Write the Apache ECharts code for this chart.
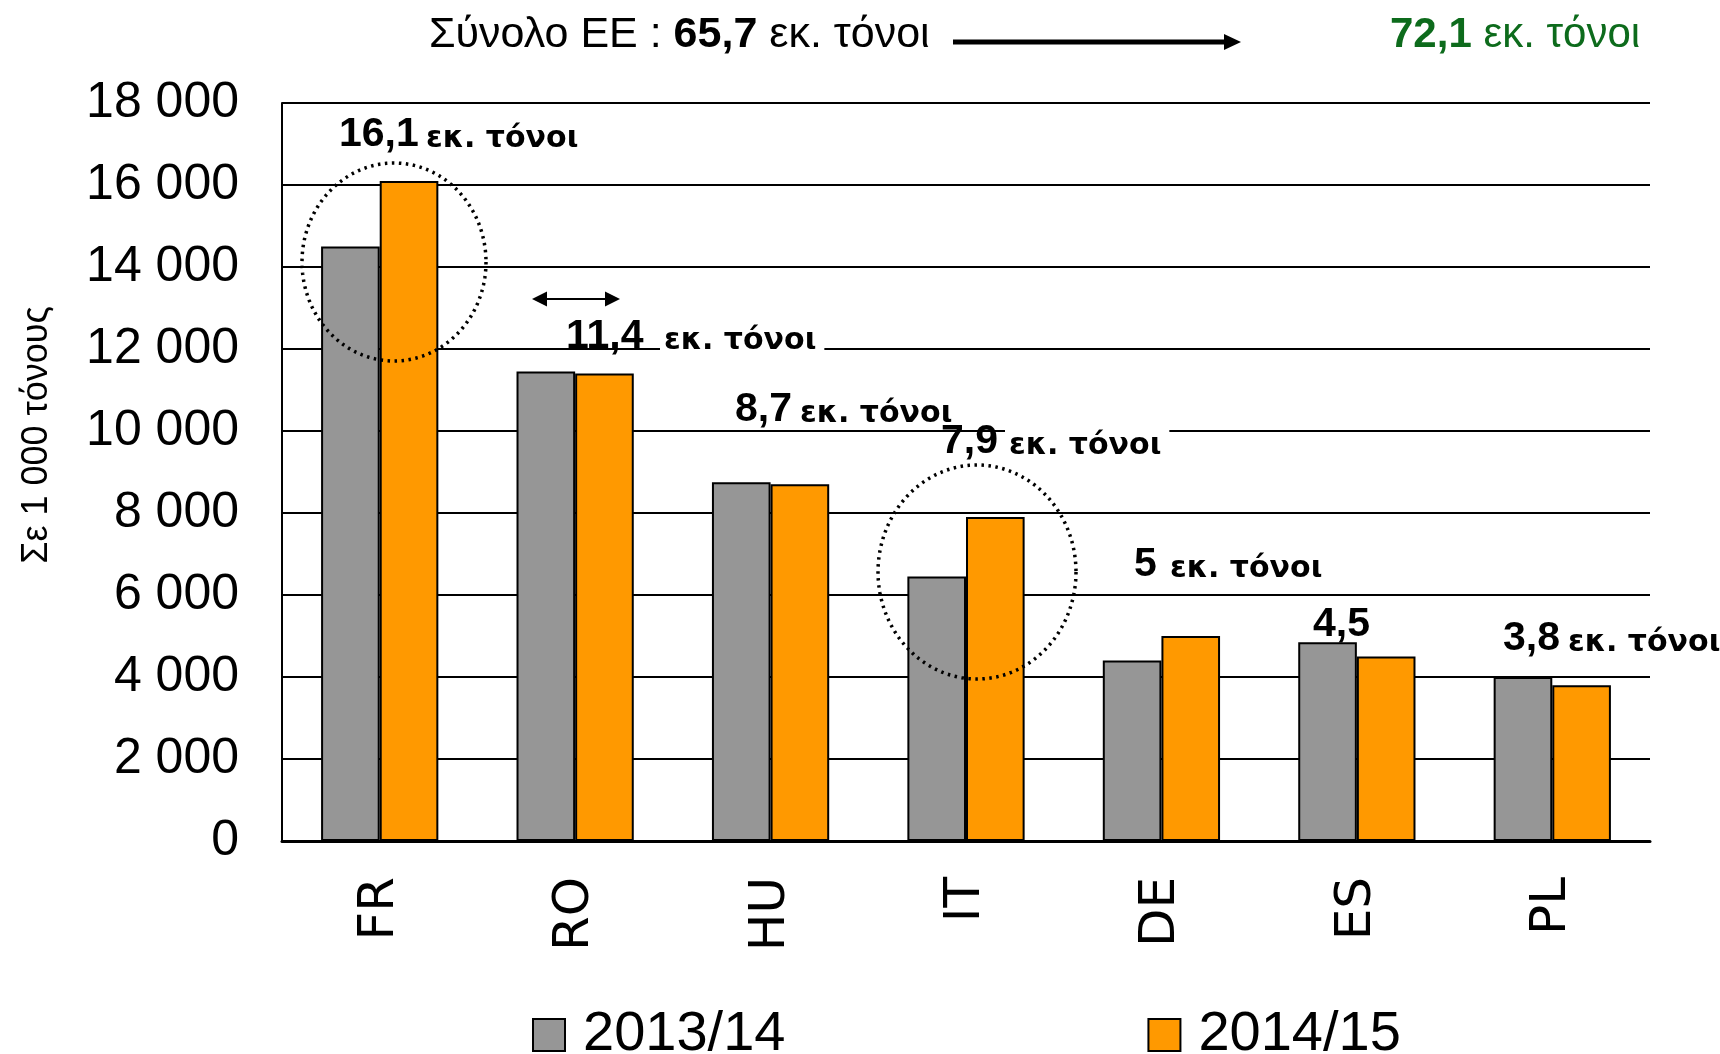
<!DOCTYPE html>
<html>
<head>
<meta charset="utf-8">
<script src="https://cdn.jsdelivr.net/npm/echarts@6/dist/echarts.min.js"></script>
<style>
  html, body { margin: 0; padding: 0; background: #fff; }
  #chart { width: 1720px; height: 1054px; }
</style>
</head>
<body>
<div id="chart"></div>
<script>
// Production per member state, in thousand tonnes
const countries = ['FR', 'RO', 'HU', 'IT', 'DE', 'ES', 'PL'];
const seasons = ['2013/14', '2014/15'];
const prod1314 = [14500, 11450, 8750, 6450, 4400, 4850, 4000];
const prod1415 = [16100, 11400, 8700, 7900, 5000, 4500, 3800];
const yMin = 0, yMax = 18000, yStep = 2000;
// EU totals, million tonnes
const euTotals = ['65,7', '72,1'];
const unitShort = 'εκ. τόνοι';
const yAxisTitle = 'Σε 1 000 τόνους';

const SANS = '"Liberation Sans", Arial, sans-serif';
const WIDE = '"DejaVu Sans", Verdana, sans-serif';

function thousands(v) {
  return String(v).replace(/\B(?=(\d{3})+(?!\d))/g, ' ');
}
function millions(v) {
  return (v / 1000).toFixed(1).replace('.', ',').replace(/,0$/, '');
}

// Callouts for the 2014/15 values: where each one sits and whether its unit text masks the grid line
const callouts = [
  { i: 0, x: 339, base: 149, ux: 426, mask: false },
  { i: 1, x: 566, base: 351, ux: 660, mask: true },
  { i: 2, x: 735, base: 424, ux: 800, mask: false },
  { i: 3, x: 941, base: 456, ux: 1005, mask: true },
  { i: 4, x: 1134, base: 579, ux: 1170, mask: false },
  { i: 5, x: 1313, base: 639, ux: null, mask: false },
  { i: 6, x: 1503, base: 653, ux: 1568, mask: false }
];

const graphics = [];

callouts.forEach(c => {
  graphics.push({
    type: 'text', z: 100,
    x: c.x, y: c.base - 14,
    style: {
      text: millions(prod1415[c.i]),
      font: 'bold 41px ' + SANS,
      fill: '#000', align: 'left', verticalAlign: 'middle'
    }
  });
  if (c.ux !== null) {
    const st = {
      text: unitShort,
      font: 'bold 30px ' + WIDE,
      fill: '#000', align: 'left', verticalAlign: 'middle'
    };
    if (c.mask) {
      st.backgroundColor = '#fff';
      st.padding = [6, 8, 6, 4];
    }
    graphics.push({ type: 'text', z: 99, x: c.ux, y: c.base - 10, style: st });
  }
});

// Dotted rings round FR and IT
function ringPoints(cx, cy, rx, ry) {
  const pts = [];
  for (let k = 0; k < 160; k++) {
    const a = (k / 160) * Math.PI * 2;
    pts.push([cx + rx * Math.cos(a), cy + ry * Math.sin(a)]);
  }
  return pts;
}
[[394, 262, 92, 99], [977, 572, 99, 107]].forEach(r => {
  graphics.push({
    type: 'polygon', z: 110,
    shape: { points: ringPoints(r[0], r[1], r[2], r[3]) },
    style: { fill: null, stroke: '#000', lineWidth: 3.5, lineDash: [2.5, 4.5] }
  });
});

// Double-headed arrow above RO
graphics.push(
  { type: 'line', z: 100, shape: { x1: 542, y1: 299, x2: 610, y2: 299 }, style: { stroke: '#000', lineWidth: 2 } },
  { type: 'polygon', z: 100, shape: { points: [[532, 299], [547, 291.5], [547, 306.5]] }, style: { fill: '#000' } },
  { type: 'polygon', z: 100, shape: { points: [[620, 299], [605, 291.5], [605, 306.5]] }, style: { fill: '#000' } }
);

// Header: EU total and arrow
graphics.push(
  {
    type: 'text', z: 100, x: 429, y: 35,
    style: {
      text: '{n|Σύνολο ΕΕ : }{b|' + euTotals[0] + '}{n| ' + unitShort + '}',
      verticalAlign: 'middle', align: 'left',
      rich: {
        n: { font: '43px ' + SANS, fill: '#000' },
        b: { font: 'bold 43px ' + SANS, fill: '#000' }
      }
    }
  },
  { type: 'line', z: 100, shape: { x1: 953, y1: 42, x2: 1228, y2: 42 }, style: { stroke: '#000', lineWidth: 5 } },
  { type: 'polygon', z: 100, shape: { points: [[1224, 34], [1241, 42], [1224, 50]] }, style: { fill: '#000' } },
  {
    type: 'text', z: 100, x: 1390, y: 35,
    style: {
      text: '{b|' + euTotals[1] + '}{n| ' + unitShort + '}',
      verticalAlign: 'middle', align: 'left',
      rich: {
        n: { font: '42px ' + SANS, fill: '#0d6b1c' },
        b: { font: 'bold 42px ' + SANS, fill: '#0d6b1c' }
      }
    }
  },
  {
    type: 'text', z: 100, x: 37, y: 435, rotation: Math.PI / 2,
    style: {
      text: yAxisTitle, font: '36px ' + SANS, fill: '#000',
      align: 'center', verticalAlign: 'middle'
    }
  }
);

const chart = echarts.init(document.getElementById('chart'), null, { renderer: 'canvas' });
chart.setOption({
  animation: false,
  backgroundColor: '#fff',
  grid: { left: 282, right: 70, top: 103, bottom: 213, containLabel: false },
  legend: {
    data: seasons, icon: 'rect', top: 1007, left: 532, padding: 0,
    itemWidth: 32, itemHeight: 32, itemGap: 362,
    textStyle: { fontFamily: SANS, fontSize: 56, color: '#000', padding: [0, 0, 0, 13] }
  },
  xAxis: {
    type: 'category', data: countries,
    axisLine: { lineStyle: { color: '#000', width: 3 } },
    axisTick: { length: 16, lineStyle: { color: '#000', width: 2 } },
    axisLabel: { rotate: 90, margin: 36, fontFamily: WIDE, fontSize: 50, color: '#000' }
  },
  yAxis: {
    type: 'value', min: yMin, max: yMax, interval: yStep,
    axisLine: { show: true, lineStyle: { color: '#000', width: 2 } },
    axisTick: { show: false },
    axisLabel: { fontFamily: SANS, fontSize: 50, color: '#000', margin: 43, formatter: thousands },
    splitLine: { lineStyle: { color: '#000', width: 2 } }
  },
  series: [
    {
      name: seasons[0], type: 'bar', data: prod1314,
      barGap: '0%', barCategoryGap: '40%',
      itemStyle: { color: '#969696', borderColor: '#000', borderWidth: 2 }
    },
    {
      name: seasons[1], type: 'bar', data: prod1415,
      barGap: '0%', barCategoryGap: '40%',
      itemStyle: { color: '#ff9900', borderColor: '#000', borderWidth: 2 }
    }
  ],
  graphic: { elements: graphics }
});
</script>
</body>
</html>
